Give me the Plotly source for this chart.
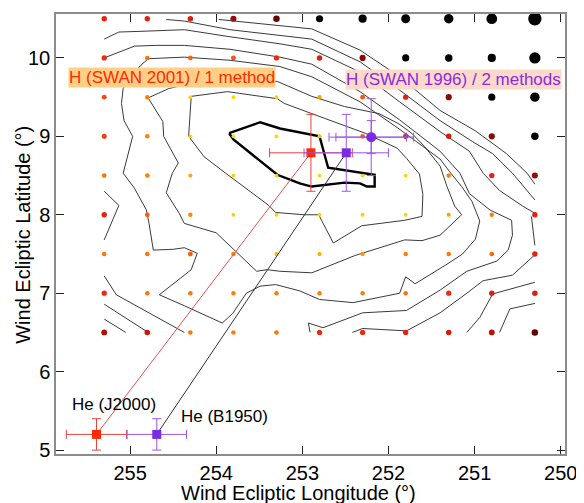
import numpy as np
import plotly.graph_objects as go

# ---------------- data ----------------
GRID_LON = [255.3, 254.8, 254.3, 253.8, 253.3, 252.8, 252.3, 251.8, 251.3, 250.8, 250.3]
GRID_LAT = [10.5, 10.0, 9.5, 9.0, 8.5, 8.0, 7.5, 7.0, 6.5]
GRID_VAL = [
    [5.0, 5.0, 5.2, 6.3, 7.0, 8.0, 9.5, 10.5, 11.0, 12.5, 15.0],
    [4.8, 3.3, 3.6, 4.0, 4.8, 5.2, 6.5, 8.0, 8.5, 9.5, 13.0],
    [4.2, 3.0, 1.0, 0.8, 1.0, 2.3, 4.0, 5.0, 6.5, 8.0, 11.0],
    [4.4, 3.0, 1.0, 0.8, 0.8, 1.5, 3.8, 5.0, 5.3, 6.5, 8.5],
    [3.3, 3.0, 2.0, 1.0, 1.0, 0.8, 1.0, 1.0, 3.0, 5.0, 6.3],
    [5.0, 3.8, 2.8, 1.0, 1.0, 1.0, 1.0, 1.0, 2.2, 3.0, 5.0],
    [3.2, 3.2, 3.8, 3.0, 1.8, 2.0, 2.5, 3.0, 3.2, 3.5, 5.0],
    [4.8, 3.2, 3.2, 3.0, 3.0, 3.0, 3.0, 3.2, 4.8, 5.2, 5.2],
    [6.0, 5.5, 3.2, 3.0, 3.2, 4.8, 4.8, 5.0, 5.3, 5.8, 7.0],
]

# contour lines (lon, lat)
CT_LON = [253.85, 253.49, 253.26, 253.03, 252.80, 252.70, 252.16, 252.16, 252.25, 252.33, 252.51, 252.89, 253.03, 253.29, 253.80, 253.85]
CT_LAT = [9.04, 9.18, 9.10, 9.05, 9.00, 8.60, 8.51, 8.36, 8.36, 8.40, 8.41, 8.36, 8.40, 8.51, 8.96, 9.04]

C2_LON = [254.29, 253.87, 253.29, 253.21, 252.89, 252.56, 252.27, 251.90, 251.79, 251.64, 251.60, 251.61, 251.81, 252.31, 252.64, 252.81, 252.98, 253.31, 253.39, 253.89, 254.14, 254.32, 254.29]
C2_LAT = [9.51, 9.57, 9.48, 9.42, 9.29, 9.16, 9.04, 8.85, 8.72, 8.52, 8.26, 7.98, 7.93, 7.86, 7.64, 8.00, 8.00, 8.03, 8.12, 8.53, 8.74, 9.00, 9.51]

C3_LON = [254.79, 254.55, 254.19, 253.72, 253.29, 252.89, 252.51, 252.11, 251.88, 251.73, 251.58, 251.40, 251.32, 251.23, 251.15, 251.40, 251.61, 251.81, 252.39, 252.89, 253.26, 253.41, 253.53, 254.00, 254.37, 254.43, 254.58, 254.51, 254.44, 254.61, 254.62, 254.79]
C3_LAT = [9.49, 9.61, 9.70, 9.73, 9.70, 9.51, 9.38, 9.29, 9.16, 9.04, 8.87, 8.62, 8.36, 8.11, 8.00, 7.74, 7.67, 7.68, 7.48, 7.26, 7.28, 7.30, 7.28, 7.77, 7.89, 8.02, 8.28, 8.53, 8.66, 9.00, 9.19, 9.49]

C4_LON = [254.91, 255.00, 255.08, 255.10, 255.07, 254.97, 255.08, 254.95, 254.81, 254.78, 254.73, 254.50, 254.37, 254.22, 254.29, 254.66, 254.37, 253.93, 253.81, 253.65, 253.49, 253.31, 253.03, 252.80, 252.41, 251.87, 251.80, 251.69, 251.32, 251.14, 250.99, 250.94, 251.03, 251.15, 251.29, 251.40, 251.87, 252.33, 252.89, 253.26, 253.84, 254.37, 254.79, 254.91]
C4_LAT = [9.87, 9.75, 9.61, 9.42, 9.20, 9.00, 8.53, 8.34, 8.06, 7.89, 7.55, 7.56, 7.58, 7.51, 7.30, 6.98, 6.84, 6.62, 6.74, 7.00, 7.09, 7.11, 7.03, 6.92, 6.88, 7.00, 7.21, 7.12, 7.37, 7.50, 7.69, 7.92, 8.17, 8.36, 8.55, 8.71, 9.09, 9.44, 9.76, 9.89, 9.97, 10.01, 9.99, 9.87]

C5_LON = [252.91, 252.93, 252.76, 252.30, 251.79, 251.40, 251.09, 250.74, 250.61, 250.56, 250.57, 250.82, 251.06, 251.17, 251.40, 251.87, 252.33, 252.89, 253.26, 253.84, 254.37, 254.70, 254.95, 255.30]
C5_LAT = [6.50, 6.62, 6.56, 6.75, 6.78, 7.04, 7.28, 7.41, 7.55, 7.74, 7.93, 8.06, 8.27, 8.53, 8.81, 9.21, 9.57, 9.92, 10.01, 10.11, 10.16, 10.16, 10.15, 10.00]

O1_LON = [253.97, 253.43, 252.89, 252.33, 251.87, 251.40, 250.99, 250.63, 250.39, 250.30]
O1_LAT = [10.49, 10.43, 10.37, 10.10, 9.76, 9.33, 9.07, 8.78, 8.53, 8.39]
O2_LON = [254.58, 254.37, 253.84, 253.26, 252.89, 252.33, 251.87, 251.40, 251.02, 250.79, 250.56, 250.30]
O2_LAT = [10.49, 10.47, 10.36, 10.29, 10.24, 9.95, 9.59, 9.20, 8.93, 8.78, 8.53, 8.19]
O3_LON = [255.30, 255.13, 254.85, 254.37, 253.84, 253.26, 252.89, 252.33, 251.87, 251.40, 251.06, 250.90, 250.71, 250.44, 250.30]
O3_LAT = [10.24, 10.33, 10.34, 10.36, 10.27, 10.18, 10.11, 9.82, 9.44, 9.06, 8.81, 8.53, 8.31, 8.11, 8.02]

C6_LON = [252.42, 252.30, 251.79, 251.40, 251.09, 250.90, 250.56, 250.30]
C6_LAT = [6.50, 6.55, 6.52, 6.75, 7.00, 7.16, 7.23, 7.49]
C7_LON = [251.09, 250.94, 250.79, 250.32, 250.30]
C7_LAT = [6.50, 6.69, 6.99, 7.13, 7.14]
C8_LON = [250.71, 250.59, 250.30]
C8_LAT = [6.50, 6.80, 6.87]
L1_LON = [255.30, 255.13, 255.30]
L1_LAT = [8.30, 8.12, 7.68]
L2_LON = [255.30, 255.16, 254.37]
L2_LAT = [7.22, 6.98, 6.50]
L3_LON = [255.30, 254.79]
L3_LAT = [6.86, 6.50]
L4_LON = [255.30, 255.05]
L4_LAT = [6.67, 6.50]
L5_LON = [250.34, 250.30]
L5_LAT = [7.98, 7.61]

THIN_CONTOURS = [
    (C2_LON, C2_LAT), (C3_LON, C3_LAT), (C4_LON, C4_LAT), (C5_LON, C5_LAT),
    (O1_LON, O1_LAT), (O2_LON, O2_LAT), (O3_LON, O3_LAT),
    (C6_LON, C6_LAT), (C7_LON, C7_LAT), (C8_LON, C8_LAT),
    (L1_LON, L1_LAT), (L2_LON, L2_LAT), (L3_LON, L3_LAT), (L4_LON, L4_LAT), (L5_LON, L5_LAT),
]

# measured directions
H2001_LON, H2001_LAT, H2001_ELON, H2001_ELAT = 252.90, 8.79, 0.48, 0.49
H1996SQ_LON, H1996SQ_LAT, H1996SQ_ELON, H1996SQ_ELAT = 252.49, 8.79, 0.49, 0.49
H1996C_LON, H1996C_LAT = 252.20, 8.99
H1996C_ELON_OUT, H1996C_ELAT_OUT = 0.49, 0.49
H1996C_ELON_IN, H1996C_ELAT_IN = 0.41, 0.21
HEJ_LON, HEJ_LAT, HEJ_ELON, HEJ_ELAT = 255.39, 5.20, 0.35, 0.20
HEB_LON, HEB_LAT, HEB_ELON, HEB_ELAT = 254.69, 5.20, 0.345, 0.20

X_TICKS = [255, 254, 253, 252, 251, 250]
Y_TICKS = [5, 6, 7, 8, 9, 10]

# ---------------- figure ----------------
FONT = "Arial, Liberation Sans, sans-serif"
RED = "#FF2A00"
RED_BAR = "#E8403A"
PURPLE = "#7B2BE2"
PURPLE_BAR = "#9A55E6"

fig = go.Figure()

for lon, lat in THIN_CONTOURS:
    fig.add_trace(go.Scatter(x=lon, y=lat, mode="lines",
                             line=dict(color="#3a3a3a", width=1), hoverinfo="skip"))
fig.add_trace(go.Scatter(x=CT_LON, y=CT_LAT, mode="lines",
                         line=dict(color="#000000", width=2.4), hoverinfo="skip"))

glon, glat = np.meshgrid(GRID_LON, GRID_LAT)
gval = np.array(GRID_VAL)
sizes = 3.6 + 0.2 * gval + 0.03 * gval ** 2
colorscale = [
    [0.0, "#FFE800"], [0.125, "#FFD200"], [0.25, "#FFAA00"], [0.375, "#FF8000"],
    [0.5, "#FF5010"], [0.625, "#E82010"], [0.75, "#B01006"], [0.875, "#600404"],
    [1.0, "#000000"],
]
fig.add_trace(go.Scatter(
    x=glon.ravel(), y=glat.ravel(), mode="markers",
    marker=dict(size=sizes.ravel(), color=gval.ravel(), colorscale=colorscale,
                cmin=0, cmax=8, line=dict(width=0), opacity=1),
    hoverinfo="skip"))

# connecting lines He -> H
fig.add_trace(go.Scatter(x=[HEJ_LON, H2001_LON], y=[HEJ_LAT, H2001_LAT], mode="lines",
                         line=dict(color="#E85050", width=1), hoverinfo="skip"))
fig.add_trace(go.Scatter(x=[HEB_LON, H1996SQ_LON], y=[HEB_LAT, H1996SQ_LAT], mode="lines",
                         line=dict(color="#333333", width=1), hoverinfo="skip"))


def err_point(x, y, ex, ey, color, barcolor, symbol, size, show_marker=True):
    fig.add_trace(go.Scatter(
        x=[x], y=[y], mode="markers",
        marker=dict(symbol=symbol, size=size, color=color if show_marker else "rgba(0,0,0,0)",
                    line=dict(width=0)),
        error_x=dict(type="constant", value=ex, color=barcolor, thickness=1, width=4.5),
        error_y=dict(type="constant", value=ey, color=barcolor, thickness=1, width=4.5),
        hoverinfo="skip"))


err_point(H1996C_LON, H1996C_LAT, H1996C_ELON_IN, H1996C_ELAT_IN, PURPLE, PURPLE_BAR, "circle", 10, False)
err_point(H2001_LON, H2001_LAT, H2001_ELON, H2001_ELAT, RED, RED_BAR, "square", 9)
err_point(H1996SQ_LON, H1996SQ_LAT, H1996SQ_ELON, H1996SQ_ELAT, PURPLE, PURPLE_BAR, "square", 9)
err_point(H1996C_LON, H1996C_LAT, H1996C_ELON_OUT, H1996C_ELAT_OUT, PURPLE, PURPLE_BAR, "circle", 10)
err_point(HEJ_LON, HEJ_LAT, HEJ_ELON, HEJ_ELAT, RED, RED_BAR, "square", 9)
err_point(HEB_LON, HEB_LAT, HEB_ELON, HEB_ELAT, PURPLE, PURPLE_BAR, "square", 9)

annotations = [
    dict(text="H (SWAN 2001) / 1 method", x=0.228, y=0.855, font=dict(color=RED, size=17),
         bgcolor="#FFCF86", borderpad=0),
    dict(text="H (SWAN 1996) / 2 methods", x=0.780, y=0.851, font=dict(color="#8A2BE2", size=17),
         bgcolor="#FCDACA", borderpad=0),
    dict(text="He (J2000)", x=0.1136, y=0.113, font=dict(color="#000000", size=17)),
    dict(text="He (B1950)", x=0.332, y=0.086, font=dict(color="#000000", size=17)),
    dict(text="Wind Ecliptic Longitude (°)", x=0.476, y=-0.088, font=dict(color="#000000", size=20)),
    dict(text="Wind Ecliptic Latitude (°)", x=-0.065, y=0.498, textangle=-90,
         font=dict(color="#000000", size=20)),
]
for a in annotations:
    a.update(xref="paper", yref="paper", showarrow=False, xanchor="center", yanchor="middle")
    a["font"]["family"] = FONT

axis_common = dict(showgrid=False, zeroline=False, showline=True, linecolor="#8c8c8c",
                   linewidth=1.5, mirror="ticks", ticks="inside", ticklen=8, tickwidth=1,
                   tickcolor="#222222", tickfont=dict(family=FONT, size=20, color="#000000"))

# the page body adds an 8 px offset, so the figure is 8 px smaller and margins shifted
fig.update_layout(
    width=576, height=495,
    margin=dict(l=48, r=19, t=4, b=49),
    paper_bgcolor="white", plot_bgcolor="white",
    showlegend=False,
    xaxis=dict(range=[255.86, 249.95], tickvals=X_TICKS, **axis_common),
    yaxis=dict(range=[4.95, 10.56], tickvals=Y_TICKS, **axis_common),
    annotations=annotations,
)

fig.write_html("out.html")
